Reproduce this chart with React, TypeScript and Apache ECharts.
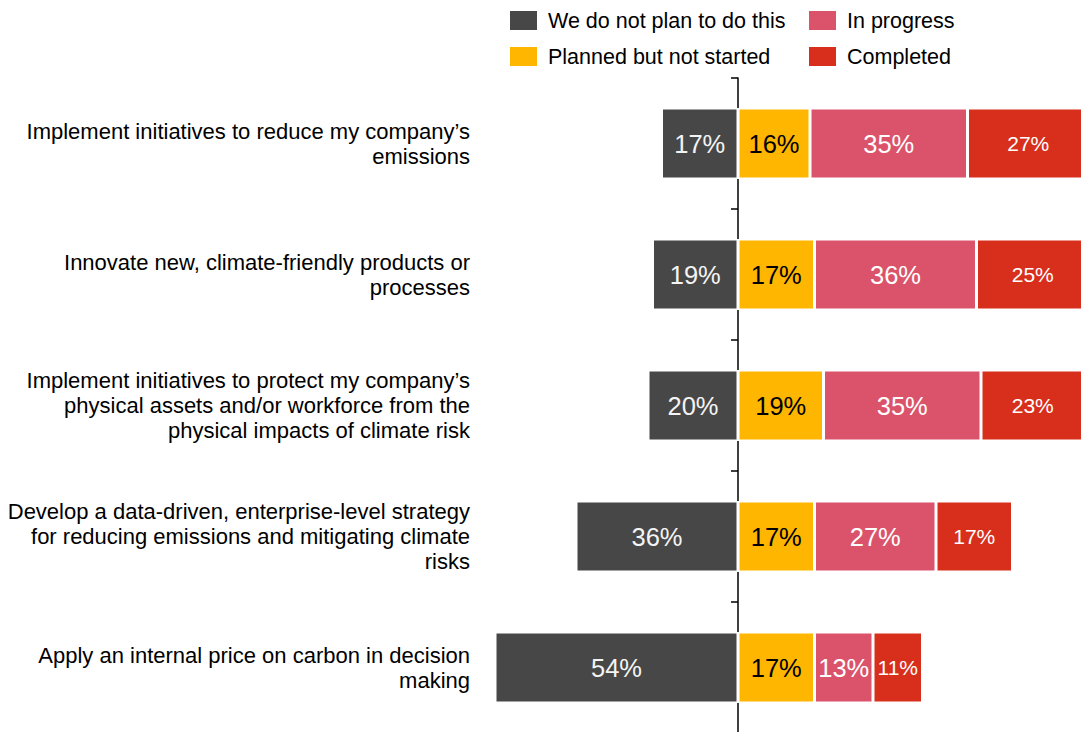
import React, { useEffect, useRef } from "react";
import * as echarts from "echarts";

const categories = [
  "Implement initiatives to reduce my company’s\nemissions",
  "Innovate new, climate-friendly products or\nprocesses",
  "Implement initiatives to protect my company’s\nphysical assets and/or workforce from the\nphysical impacts of climate risk",
  "Develop a data-driven, enterprise-level strategy\nfor reducing emissions and mitigating climate\nrisks",
  "Apply an internal price on carbon in decision\nmaking",
];

const seriesNames = [
  "We do not plan to do this",
  "Planned but not started",
  "In progress",
  "Completed",
];

const notPlanned = [17, 19, 20, 36, 54];
const plannedNotStarted = [16, 17, 19, 17, 17];
const inProgress = [35, 36, 35, 27, 13];
const completed = [27, 25, 23, 17, 11];

const colors = ["#474747", "#FFB600", "#DB536A", "#D82F1C"];
const labelColors = ["#f4f4f4", "#000000", "#ffffff", "#ffffff"];
const labelSizes = [25.5, 25.5, 25.5, 21];

const FONT = "'Liberation Sans', Arial, sans-serif";

export default function App() {
  const ref = useRef<HTMLDivElement>(null);

  useEffect(() => {
    if (!ref.current) return;
    const chart = echarts.init(ref.current, undefined, { renderer: "svg" });
    const values = [
      notPlanned.map((v) => -v),
      plannedNotStarted,
      inProgress,
      completed,
    ];
    const series = seriesNames.map((name, i) => ({
      name,
      type: "bar",
      stack: "total",
      barWidth: 71,
      data: values[i],
      itemStyle: { color: colors[i], borderColor: "#ffffff", borderWidth: 1.5 },
      label: {
        show: true,
        position: "inside",
        formatter: (p: any) => Math.abs(p.value) + "%",
        color: labelColors[i],
        fontSize: labelSizes[i],
        fontFamily: FONT,
      },
    }));

    const legendCommon = {
      orient: "vertical",
      top: 4,
      padding: 5,
      itemWidth: 29,
      itemHeight: 21,
      itemGap: 13,
      icon: "rect",
      textStyle: {
        fontSize: 21.5,
        fontFamily: FONT,
        color: "#000",
        padding: [0, 0, 0, 5],
      },
    };

    chart.setOption({
      animation: false,
      backgroundColor: "#ffffff",
      legend: [
        { ...legendCommon, left: 503, data: [seriesNames[0], seriesNames[1]] },
        { ...legendCommon, left: 802, data: [seriesNames[2], seriesNames[3]] },
      ],
      grid: {
        left: 468,
        top: 78,
        width: 630,
        height: 655,
        containLabel: false,
        outerBoundsMode: "none",
      },
      xAxis: {
        type: "value",
        min: -60,
        max: 80,
        show: false,
      },
      yAxis: {
        type: "category",
        data: categories,
        inverse: true,
        axisLine: { show: true, onZero: true, lineStyle: { color: "#000", width: 1.5 } },
        axisTick: { show: true, length: 7, lineStyle: { color: "#000", width: 1.5 } },
        axisLabel: {
          margin: -2,
          fontSize: 22,
          lineHeight: 25,
          align: "right",
          color: "#000",
          fontFamily: FONT,
        },
      },
      series,
    });
    return () => chart.dispose();
  }, []);

  return (
    <div
      ref={ref}
      style={{ position: "absolute", left: 0, top: 0, width: 1081, height: 732 }}
    />
  );
}
